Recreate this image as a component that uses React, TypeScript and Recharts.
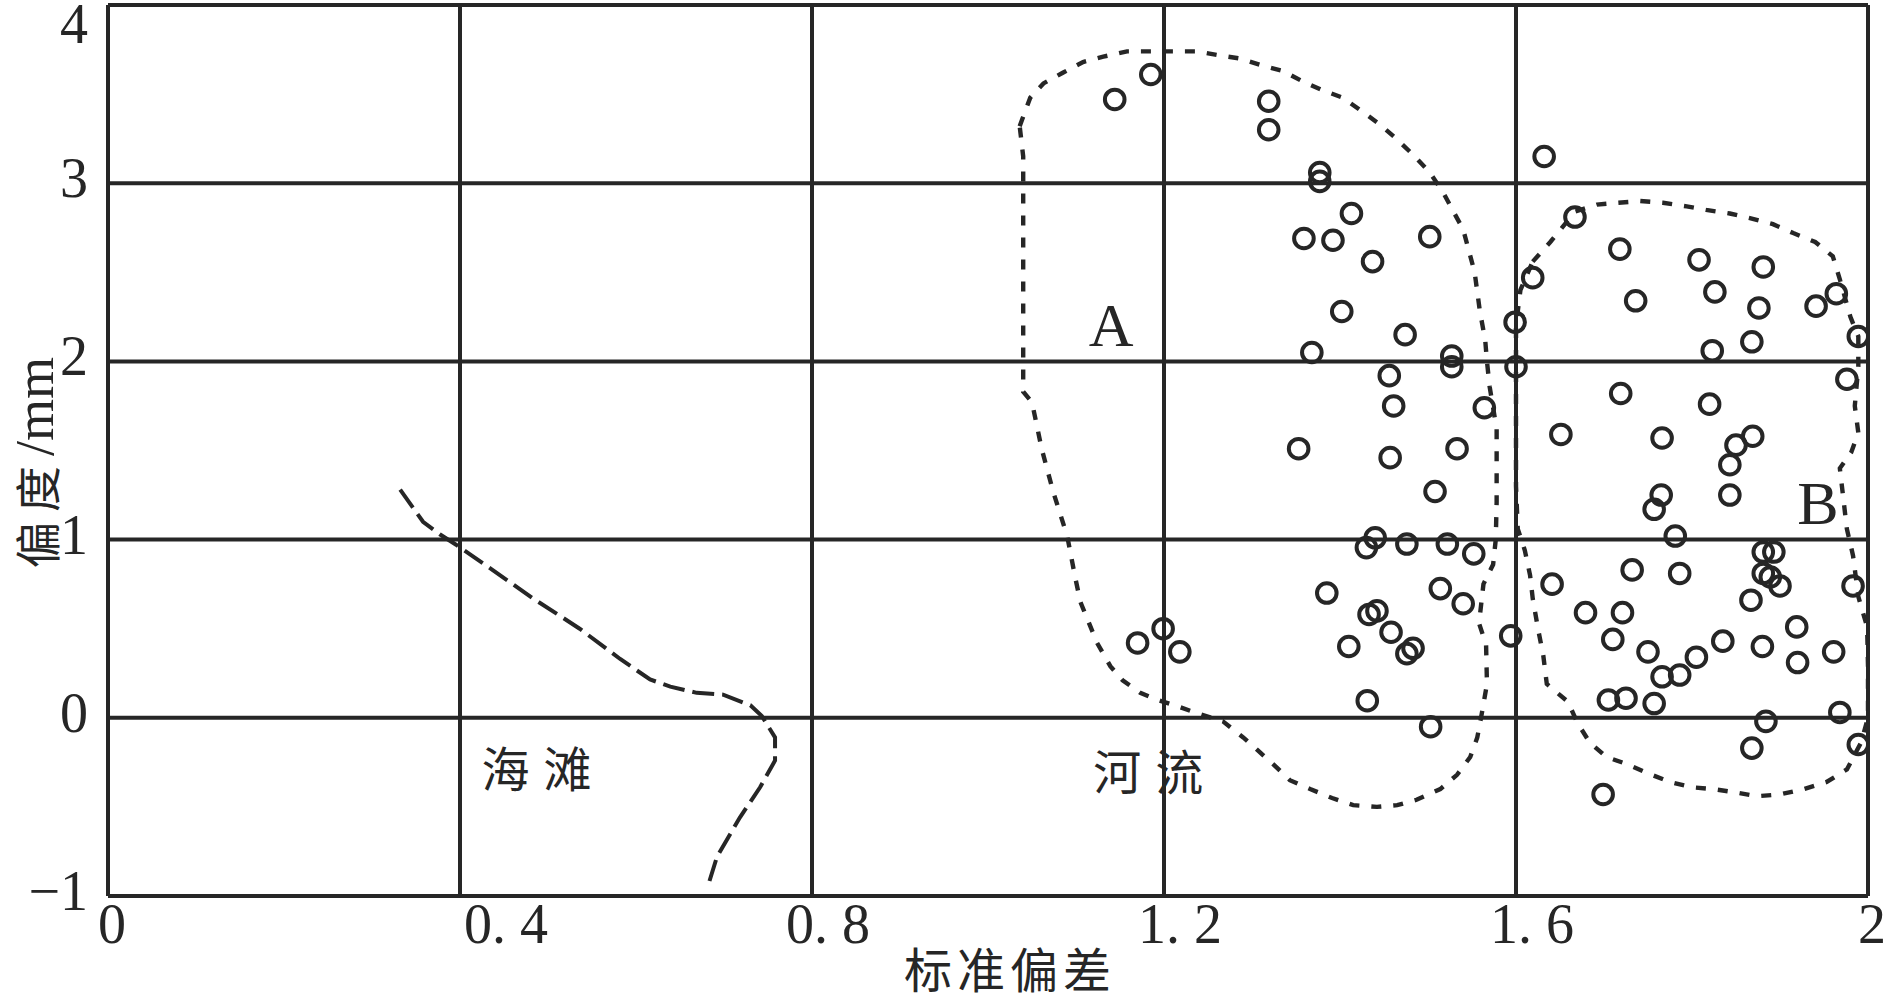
import {
  ComposedChart,
  XAxis,
  YAxis,
  CartesianGrid,
  Scatter,
  Line,
  ReferenceDot,
  Label,
} from "recharts";

const INK = "#262626";
const SERIF = "'Liberation Serif', 'Times New Roman', serif";
const CJK = "'Noto Sans CJK SC', 'Noto Sans', sans-serif";

const X_TICKS = [0, 0.4, 0.8, 1.2, 1.6, 2];
const Y_TICKS = [-1, 0, 1, 2, 3, 4];

// samples left of / on the 1.6 line
const riverSamplesA: [number, number][] = [
  [1.144, 3.47], [1.185, 3.61], [1.319, 3.46], [1.319, 3.3], [1.377, 3.06],
  [1.377, 3.01], [1.413, 2.83], [1.359, 2.69], [1.392, 2.68], [1.502, 2.7],
  [1.437, 2.56], [1.402, 2.28], [1.474, 2.15], [1.368, 2.05], [1.527, 2.03],
  [1.527, 1.97], [1.456, 1.92], [1.461, 1.75], [1.564, 1.74], [1.353, 1.51],
  [1.457, 1.46], [1.533, 1.51], [1.508, 1.27], [1.44, 1.01], [1.43, 0.955],
  [1.476, 0.975], [1.522, 0.975], [1.552, 0.92], [1.385, 0.7], [1.514, 0.725],
  [1.54, 0.64], [1.442, 0.6], [1.433, 0.58], [1.458, 0.48], [1.41, 0.4],
  [1.483, 0.39], [1.476, 0.36], [1.431, 0.096], [1.503, -0.05], [1.17, 0.42],
  [1.199, 0.5], [1.218, 0.37], [1.599, 2.22], [1.6, 1.97], [1.594, 0.46],
  [1.632, 3.15], [1.619, 2.47],
];

// samples right of the 1.6 line
const riverSamplesB: [number, number][] = [
  [1.667, 2.81], [1.718, 2.63], [1.808, 2.57], [1.881, 2.53], [1.826, 2.39],
  [1.736, 2.34], [1.964, 2.38], [1.941, 2.31], [1.876, 2.3], [1.868, 2.11],
  [1.823, 2.06], [1.989, 2.14], [1.976, 1.9], [1.719, 1.82], [1.82, 1.76],
  [1.651, 1.59], [1.766, 1.57], [1.869, 1.58], [1.85, 1.53], [1.843, 1.42],
  [1.765, 1.25], [1.757, 1.17], [1.843, 1.25], [1.781, 1.02], [1.881, 0.93],
  [1.893, 0.93], [1.881, 0.81], [1.889, 0.79], [1.9, 0.74], [1.983, 0.74],
  [1.641, 0.75], [1.732, 0.83], [1.786, 0.81], [1.867, 0.66], [1.679, 0.59],
  [1.721, 0.59], [1.919, 0.51], [1.71, 0.44], [1.835, 0.43], [1.88, 0.4],
  [1.75, 0.37], [1.805, 0.34], [1.961, 0.37], [1.92, 0.31], [1.786, 0.24],
  [1.766, 0.23], [1.705, 0.1], [1.725, 0.11], [1.757, 0.08], [1.968, 0.03],
  [1.884, -0.02], [1.868, -0.17], [1.989, -0.15], [1.699, -0.43],
];

const outlineA: [number, number][] = [
  [1.036, 3.32], [1.048, 3.48], [1.063, 3.56], [1.085, 3.62], [1.108, 3.68],
  [1.131, 3.71], [1.158, 3.74], [1.184, 3.74], [1.21, 3.74], [1.237, 3.74],
  [1.26, 3.72], [1.286, 3.7], [1.312, 3.66], [1.335, 3.63], [1.358, 3.57],
  [1.381, 3.52], [1.403, 3.48], [1.426, 3.4], [1.445, 3.33], [1.464, 3.25],
  [1.483, 3.16], [1.502, 3.06], [1.517, 2.95], [1.529, 2.84], [1.54, 2.74],
  [1.553, 2.5], [1.559, 2.28], [1.565, 2.12], [1.567, 2.0], [1.57, 1.86],
  [1.578, 1.62], [1.578, 1.39], [1.578, 1.21], [1.577, 1.0], [1.574, 0.86],
  [1.563, 0.75], [1.558, 0.53], [1.566, 0.41], [1.567, 0.19], [1.561, 0.02],
  [1.556, -0.11], [1.548, -0.22], [1.533, -0.32], [1.514, -0.4], [1.487, -0.46],
  [1.465, -0.49], [1.442, -0.5], [1.415, -0.49], [1.391, -0.45], [1.366, -0.4],
  [1.343, -0.35], [1.324, -0.26], [1.306, -0.18], [1.29, -0.11], [1.267, -0.02],
  [1.241, 0.02], [1.218, 0.06], [1.193, 0.1], [1.173, 0.14], [1.153, 0.21],
  [1.139, 0.29], [1.124, 0.42], [1.105, 0.65], [1.099, 0.79], [1.09, 1.02],
  [1.074, 1.27], [1.061, 1.51], [1.05, 1.77], [1.04, 1.83], [1.04, 2.16],
  [1.04, 2.54], [1.04, 2.91], [1.04, 3.15], [1.036, 3.32],
];

const outlineB: [number, number][] = [
  [1.619, 2.56], [1.639, 2.67], [1.667, 2.84], [1.692, 2.88], [1.715, 2.89],
  [1.741, 2.9], [1.767, 2.89], [1.794, 2.87], [1.816, 2.85], [1.843, 2.83],
  [1.869, 2.8], [1.892, 2.77], [1.915, 2.72], [1.94, 2.67], [1.96, 2.59],
  [1.968, 2.46], [1.98, 2.25], [1.989, 2.14], [1.989, 1.97], [1.985, 1.75],
  [1.989, 1.6], [1.981, 1.49], [1.968, 1.4], [1.976, 1.06], [1.983, 0.91],
  [1.989, 0.68], [1.999, 0.51], [2.0, 0.29], [2.0, 0.0], [1.992, -0.14],
  [1.976, -0.29], [1.953, -0.36], [1.927, -0.4], [1.9, -0.43], [1.874, -0.44],
  [1.851, -0.42], [1.824, -0.4], [1.8, -0.39], [1.775, -0.36], [1.749, -0.31],
  [1.726, -0.26], [1.703, -0.22], [1.684, -0.14], [1.67, -0.03], [1.659, 0.09],
  [1.635, 0.19], [1.631, 0.35], [1.625, 0.5], [1.619, 0.67], [1.616, 0.8],
  [1.61, 0.94], [1.602, 1.06], [1.6, 1.3], [1.6, 2.2], [1.605, 2.4],
  [1.619, 2.56],
];

const beachCurve: [number, number][] = [
  [0.332, 1.28], [0.358, 1.1], [0.377, 1.03], [0.396, 0.97], [0.434, 0.84],
  [0.483, 0.67], [0.536, 0.5], [0.582, 0.33], [0.616, 0.215], [0.639, 0.175],
  [0.669, 0.14], [0.699, 0.13], [0.73, 0.07], [0.743, 0.01], [0.758, -0.11],
  [0.758, -0.24], [0.741, -0.39], [0.718, -0.56], [0.692, -0.78], [0.682, -0.94],
];

const toXY = (pts: [number, number][]) => pts.map(([x, y]) => ({ x, y }));

const Ring = (props: any) => (
  <circle
    cx={props.cx}
    cy={props.cy}
    r={9.8}
    fill="none"
    stroke={INK}
    strokeWidth={4}
  />
);

const fmtX = (v: number) =>
  Number.isInteger(v) ? String(v) : v.toFixed(1).replace(".", ". ");

// where each x label starts relative to its grid line (0.4 sits right of it in the source)
const xLabelShift = (v: number) => {
  if (Number.isInteger(v)) return -10;
  if (v === 0.4) return 4;
  return -26;
};

const XTick = ({ x, y, payload }: any) => {
  const v = payload.value as number;
  return (
    <text
      x={x + xLabelShift(v)}
      y={y + 47}
      textAnchor="start"
      fontFamily={SERIF}
      fontSize={56}
      fill={INK}
    >
      {fmtX(v)}
    </text>
  );
};

const YTick = ({ x, y, payload }: any) => {
  const v = payload.value as number;
  return (
    <text
      x={x - 20}
      y={v === 4 ? y + 38 : y + 14}
      textAnchor="end"
      fontFamily={SERIF}
      fontSize={56}
      fill={INK}
    >
      {v < 0 ? `\u2212${Math.abs(v)}` : v}
    </text>
  );
};

const YTitle = ({ viewBox }: any) => {
  const cx = 35;
  const cy = viewBox.y + viewBox.height / 2 + 12;
  return (
    <text
      x={cx}
      y={cy}
      transform={`rotate(-90, ${cx}, ${cy})`}
      textAnchor="middle"
      dominantBaseline="central"
      fill={INK}
    >
      <tspan fontFamily={CJK} fontSize={46} letterSpacing={10}>
        偏度
      </tspan>
      <tspan fontFamily={SERIF} fontSize={54}>
        /mm
      </tspan>
    </text>
  );
};

const XTitle = ({ viewBox }: any) => (
  <text
    x={viewBox.x + viewBox.width / 2 + 22}
    y={viewBox.y + 92}
    textAnchor="middle"
    fontFamily={CJK}
    fontSize={48}
    letterSpacing={5}
    fill={INK}
  >
    标准偏差
  </text>
);

const notes = [
  { text: "A", x: 1.14, y: 2.21, cjk: false },
  { text: "B", x: 1.943, y: 1.21, cjk: false },
  { text: "河流", x: 1.19, y: -0.31, cjk: true },
  { text: "海滩", x: 0.495, y: -0.29, cjk: true },
];

export default function App() {
  return (
    <div
      style={{
        position: "absolute",
        top: 0,
        left: 0,
        width: 1890,
        height: 1006,
        background: "#fff",
        fontFamily: SERIF,
      }}
    >
      <ComposedChart
        width={1890}
        height={1006}
        margin={{ top: 5, right: 22, bottom: 0, left: 0 }}
      >
        <CartesianGrid
          stroke={INK}
          strokeWidth={4}
          horizontalValues={Y_TICKS}
          verticalValues={X_TICKS}
        />
        <XAxis
          type="number"
          dataKey="x"
          domain={[0, 2]}
          ticks={X_TICKS}
          allowDataOverflow
          height={110}
          axisLine={false}
          tickLine={false}
          tickSize={0}
          tickMargin={0}
          tick={<XTick />}
          interval={0}
        >
          <Label content={<XTitle />} />
        </XAxis>
        <YAxis
          type="number"
          dataKey="y"
          domain={[-1, 4]}
          ticks={Y_TICKS}
          allowDataOverflow
          width={108}
          axisLine={false}
          tickLine={false}
          tickSize={0}
          tickMargin={0}
          tick={<YTick />}
          interval={0}
        >
          <Label content={<YTitle />} />
        </YAxis>
        <Line
          data={toXY(beachCurve)}
          dataKey="y"
          type="linear"
          stroke={INK}
          strokeWidth={4}
          strokeDasharray="22 8"
          dot={false}
          activeDot={false}
          isAnimationActive={false}
        />
        <Line
          data={toXY(outlineA)}
          dataKey="y"
          type="linear"
          stroke={INK}
          strokeWidth={4.4}
          strokeDasharray="10 12"
          dot={false}
          activeDot={false}
          isAnimationActive={false}
        />
        <Line
          data={toXY(outlineB)}
          dataKey="y"
          type="linear"
          stroke={INK}
          strokeWidth={4.4}
          strokeDasharray="10 12"
          dot={false}
          activeDot={false}
          isAnimationActive={false}
        />
        <Scatter
          data={toXY(riverSamplesA)}
          shape={Ring}
          isAnimationActive={false}
        />
        <Scatter
          data={toXY(riverSamplesB)}
          shape={Ring}
          isAnimationActive={false}
        />
        {notes.map((n) => (
          <ReferenceDot
            key={n.text}
            x={n.x}
            y={n.y}
            r={0}
            fill="none"
            stroke="none"
            label={{
              value: n.text,
              position: "center",
              fill: INK,
              fontSize: n.cjk ? 48 : 62,
              fontFamily: n.cjk ? CJK : SERIF,
              letterSpacing: n.cjk ? 14 : 0,
            }}
          />
        ))}
      </ComposedChart>
    </div>
  );
}
